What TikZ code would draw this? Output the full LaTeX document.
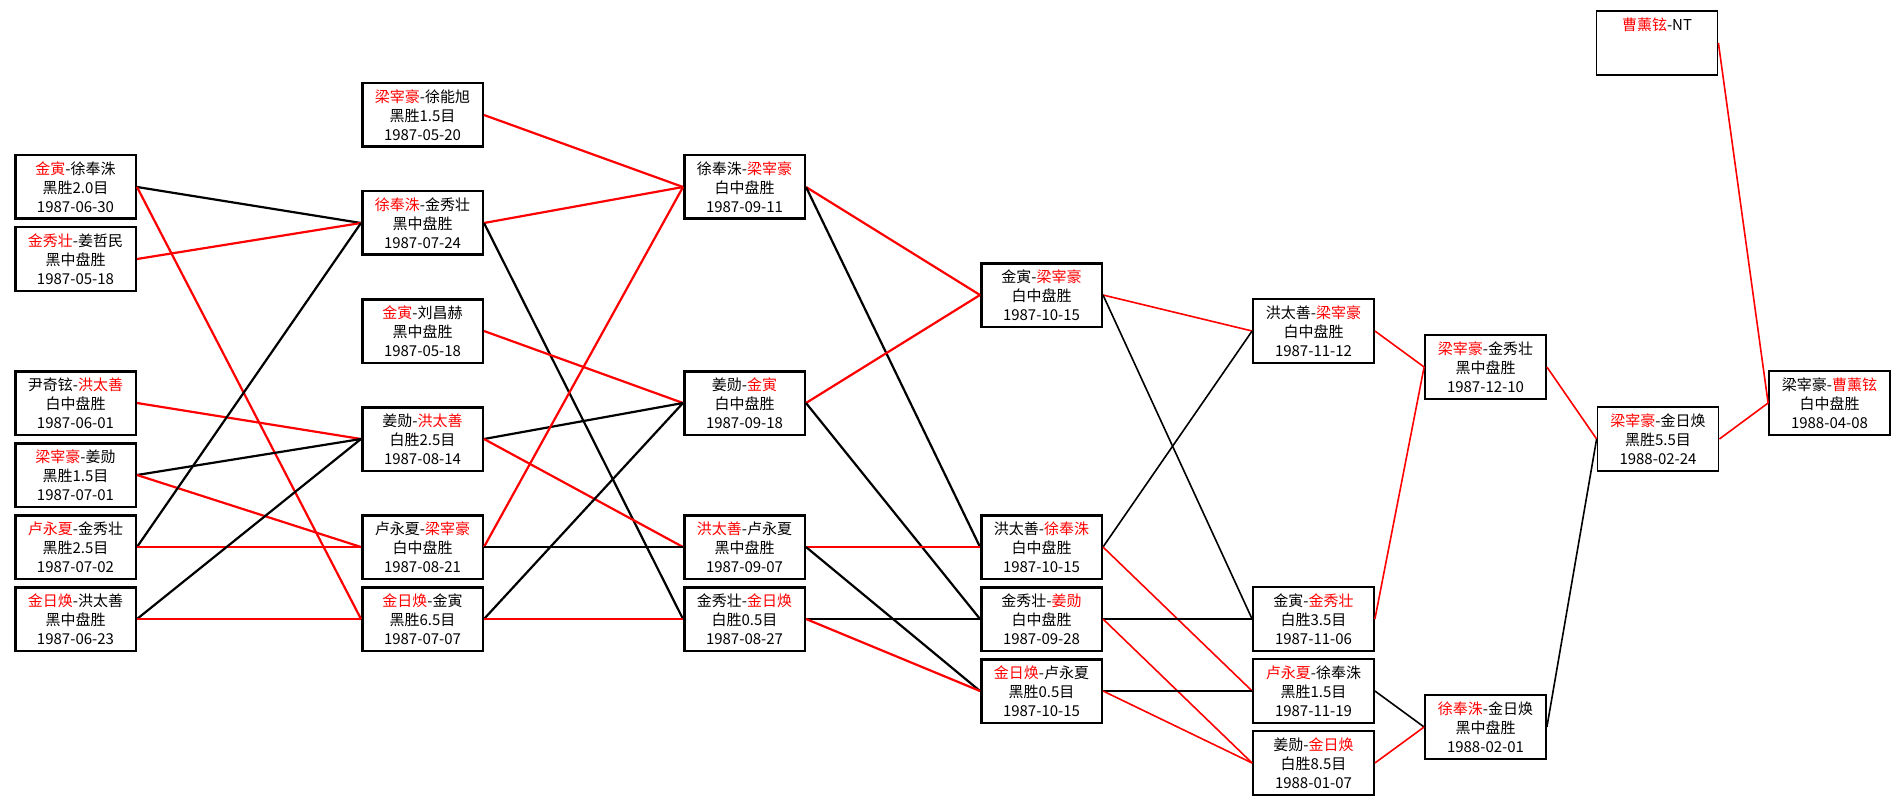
\documentclass[tikz,border=0pt]{standalone}
\usepackage{fontspec}
\newfontfamily\cjk{Noto Sans CJK SC}
\usepackage{xcolor}

\tikzset{
  game/.style={draw, line width=2.5pt, minimum width=120.5pt, minimum height=63.5pt, inner sep=0pt, align=center, font=\cjk\fontsize{15}{19}\selectfont},
  late/.style={game, line width=1.8pt, minimum width=121pt, minimum height=64pt},
  link/.style={line width=2.2pt},
  thinlink/.style={line width=1.6pt}
}

\begin{document}
\begin{tikzpicture}[x=1pt, y=-1pt]
\useasboundingbox (0,0) rectangle (1901,805);

% first round
\node[game] (a1) at (75.5,187) {\textcolor{red}{金寅}-徐奉洙\\黑胜2.0目\\1987-06-30};
\node[game] (a2) at (75.5,259) {\textcolor{red}{金秀壮}-姜哲民\\黑中盘胜\\1987-05-18};
\node[game] (a3) at (75.5,403) {尹奇铉-\textcolor{red}{洪太善}\\白中盘胜\\1987-06-01};
\node[game] (a4) at (75.5,475) {\textcolor{red}{梁宰豪}-姜勋\\黑胜1.5目\\1987-07-01};
\node[game] (a5) at (75.5,547) {\textcolor{red}{卢永夏}-金秀壮\\黑胜2.5目\\1987-07-02};
\node[game] (a6) at (75.5,619) {\textcolor{red}{金日焕}-洪太善\\黑中盘胜\\1987-06-23};

% second round
\node[game] (b1) at (422.5,115) {\textcolor{red}{梁宰豪}-徐能旭\\黑胜1.5目\\1987-05-20};
\node[game] (b2) at (422.5,223) {\textcolor{red}{徐奉洙}-金秀壮\\黑中盘胜\\1987-07-24};
\node[game] (b3) at (422.5,331) {\textcolor{red}{金寅}-刘昌赫\\黑中盘胜\\1987-05-18};
\node[game] (b4) at (422.5,439) {姜勋-\textcolor{red}{洪太善}\\白胜2.5目\\1987-08-14};
\node[game] (b5) at (422.5,547) {卢永夏-\textcolor{red}{梁宰豪}\\白中盘胜\\1987-08-21};
\node[game] (b6) at (422.5,619) {\textcolor{red}{金日焕}-金寅\\黑胜6.5目\\1987-07-07};

% third round
\node[game] (c1) at (744.5,187) {徐奉洙-\textcolor{red}{梁宰豪}\\白中盘胜\\1987-09-11};
\node[game] (c2) at (744.5,403) {姜勋-\textcolor{red}{金寅}\\白中盘胜\\1987-09-18};
\node[game] (c3) at (744.5,547) {\textcolor{red}{洪太善}-卢永夏\\黑中盘胜\\1987-09-07};
\node[game] (c4) at (744.5,619) {金秀壮-\textcolor{red}{金日焕}\\白胜0.5目\\1987-08-27};

% fourth round
\node[game] (d1) at (1041.5,295) {金寅-\textcolor{red}{梁宰豪}\\白中盘胜\\1987-10-15};
\node[game] (d2) at (1041.5,547) {洪太善-\textcolor{red}{徐奉洙}\\白中盘胜\\1987-10-15};
\node[game] (d3) at (1041.5,619) {金秀壮-\textcolor{red}{姜勋}\\白中盘胜\\1987-09-28};
\node[game] (d4) at (1041.5,691) {\textcolor{red}{金日焕}-卢永夏\\黑胜0.5目\\1987-10-15};

% later rounds
\node[late] (e1) at (1313.5,331) {洪太善-\textcolor{red}{梁宰豪}\\白中盘胜\\1987-11-12};
\node[late] (e2) at (1313.5,619) {金寅-\textcolor{red}{金秀壮}\\白胜3.5目\\1987-11-06};
\node[late] (e3) at (1313.5,691) {\textcolor{red}{卢永夏}-徐奉洙\\黑胜1.5目\\1987-11-19};
\node[late] (e4) at (1313.5,763) {姜勋-\textcolor{red}{金日焕}\\白胜8.5目\\1988-01-07};
\node[late] (f1) at (1485.5,367) {\textcolor{red}{梁宰豪}-金秀壮\\黑中盘胜\\1987-12-10};
\node[late] (f2) at (1485.5,727) {\textcolor{red}{徐奉洙}-金日焕\\黑中盘胜\\1988-02-01};
\node[late] (g1) at (1658,439) {\textcolor{red}{梁宰豪}-金日焕\\黑胜5.5目\\1988-02-24};
\node[late] (h1) at (1829.5,403) {梁宰豪-\textcolor{red}{曹薰铉}\\白中盘胜\\1988-04-08};
\node[late] (nt) at (1657,43) {\textcolor{red}{曹薰铉}-NT\\\mbox{}\\\mbox{}};

\foreach \i/\j/\c in {a1/b2/black, a1/b6/red, a2/b2/red, a3/b4/red, a4/b4/black, a4/b5/red, a5/b2/black, a5/b5/red, a6/b4/black, a6/b6/red, b1/c1/red, b2/c1/red, b2/c4/black, b3/c2/red, b4/c2/black, b4/c3/red, b5/c1/red, b5/c3/black, b6/c2/black, b6/c4/red, c1/d1/red, c1/d2/black, c2/d1/red, c2/d3/black, c3/d2/red, c3/d4/black, c4/d3/black, c4/d4/red}
\draw[link, color=\c] (\i.east) -- (\j.west);

\foreach \i/\j/\c in {d1/e1/red, d1/e2/black, d2/e1/black, d2/e3/red, d3/e2/black, d3/e4/red, d4/e3/black, d4/e4/red, e1/f1/red, e2/f1/red, e3/f2/black, e4/f2/red, f1/g1/red, f2/g1/black, g1/h1/red, nt/h1/red}
\draw[thinlink, color=\c] (\i.east) -- (\j.west);

\end{tikzpicture}
\end{document}
